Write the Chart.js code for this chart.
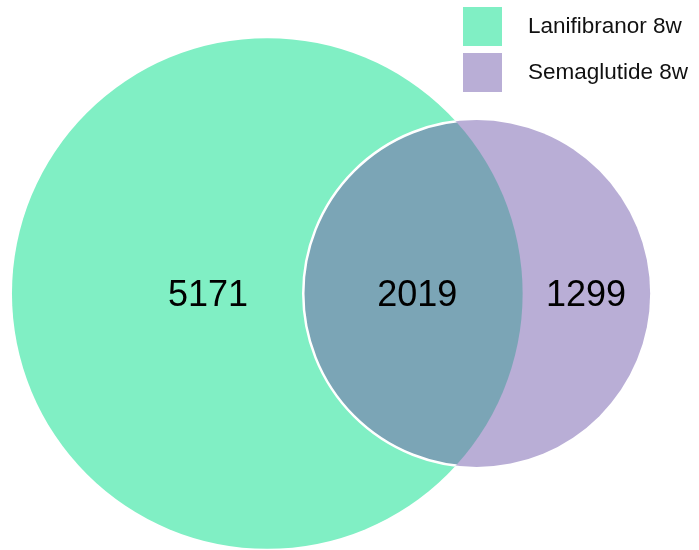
<!DOCTYPE html>
<html>
<head>
<meta charset="utf-8">
<script src="https://cdn.jsdelivr.net/npm/chart.js@4.4.1/dist/chart.umd.min.js"></script>
<style>
   html, body { margin: 0; padding: 0; background: #fff; }
   #wrap { width: 699px; height: 550px; }
</style>
</head>
<body>
<div id="wrap"><canvas id="venn"></canvas></div>
<script>
// sets and region counts
const setNames = ['Lanifibranor 8w', 'Semaglutide 8w']
const onlyCounts = [5171, 1299]
const sharedCount = 2019
const setColors = ['#80efc4', '#b9aed6']
const sharedColor = '#7ba5b6'

// layout (pixels per unit of sqrt(count / PI), big circle centre in px)
const ppu = 5.337
const centrePx = { x: 267.3, y: 293.5 }
const distanceStretch = 1.024
const labelOffsets = [-11.1, 28.1, 59.7]
const W = 699, H = 550

Chart.defaults.font.family = '"Liberation Sans", Arial, sans-serif'

// area proportional circles
const totals = onlyCounts.map(c => c + sharedCount)
const radii = totals.map(t => Math.sqrt(t / Math.PI))

function lensArea(d, r1, r2) {
   const a1 = r1 * r1 * Math.acos((d * d + r1 * r1 - r2 * r2) / (2 * d * r1))
   const a2 = r2 * r2 * Math.acos((d * d + r2 * r2 - r1 * r1) / (2 * d * r2))
   const k = Math.sqrt((-d + r1 + r2) * (d + r1 - r2) * (d - r1 + r2) * (d + r1 + r2))
   return a1 + a2 - 0.5 * k
}

function centreDistance(r1, r2, area) {
   let lo = Math.abs(r1 - r2) + 1e-6
   let hi = r1 + r2 - 1e-6
   for (let i = 0; i < 80; ++i) {
      const mid = (lo + hi) / 2
      if (lensArea(mid, r1, r2) > area) lo = mid
      else hi = mid
   }
   return (lo + hi) / 2
}

const dist = centreDistance(radii[0], radii[1], sharedCount) * distanceStretch
const centresX = [0, dist]

function pxRadius(chart, r) {
   const s = chart.scales.x
   return Math.abs(s.getPixelForValue(r) - s.getPixelForValue(0))
}

function circlePx(chart, i) {
   return {
      x: chart.scales.x.getPixelForValue(centresX[i]),
      y: chart.scales.y.getPixelForValue(0),
      r: pxRadius(chart, radii[i])
   }
}

const vennPlugin = {
   id: 'venn',
   afterDatasetsDraw(chart) {
      const ctx = chart.ctx
      const a = circlePx(chart, 0)
      const b = circlePx(chart, 1)

      // shared region
      ctx.save()
      ctx.beginPath()
      ctx.arc(a.x, a.y, a.r, 0, Math.PI * 2)
      ctx.clip()
      ctx.beginPath()
      ctx.arc(b.x, b.y, b.r, 0, Math.PI * 2)
      ctx.fillStyle = sharedColor
      ctx.fill()
      ctx.lineWidth = 2.5
      ctx.strokeStyle = '#ffffff'
      ctx.stroke()
      ctx.restore()

      // counts
      const counts = [onlyCounts[0], sharedCount, onlyCounts[1]]
      ctx.save()
      ctx.font = '36px "Liberation Sans", Arial, sans-serif'
      ctx.fillStyle = '#000000'
      ctx.textAlign = 'center'
      ctx.textBaseline = 'alphabetic'
      counts.forEach((c, i) => {
         const x = chart.scales.x.getPixelForValue(labelOffsets[i])
         const y = chart.scales.y.getPixelForValue(0) + 12
         ctx.fillText(String(c), x, y)
      })
      ctx.restore()
   },
   afterDraw(chart) {
      // legend
      const ctx = chart.ctx
      ctx.save()
      ctx.font = '22.5px "Liberation Sans", Arial, sans-serif'
      ctx.textBaseline = 'middle'
      ctx.textAlign = 'left'
      setNames.forEach((name, i) => {
         const top = 7 + i * 46
         ctx.fillStyle = setColors[i]
         ctx.fillRect(463, top, 39, 39)
         ctx.fillStyle = '#111111'
         ctx.fillText(name, 528, top + 20)
      })
      ctx.restore()
   }
}

new Chart(document.getElementById('venn'), {
   type: 'scatter',
   data: {
      datasets: setNames.map((name, i) => ({
         label: name,
         data: [{ x: centresX[i], y: 0 }],
         backgroundColor: setColors[i],
         borderColor: '#ffffff',
         borderWidth: 0,
         pointRadius: ctx => pxRadius(ctx.chart, radii[i]),
         order: 2 - i,
         clip: false
      }))
   },
   options: {
      responsive: true,
      maintainAspectRatio: false,
      animation: false,
      events: [],
      layout: { padding: 0 },
      scales: {
         x: { type: 'linear', display: false, min: -centrePx.x / ppu, max: (W - centrePx.x) / ppu },
         y: { type: 'linear', display: false, min: -(H - centrePx.y) / ppu, max: centrePx.y / ppu }
      },
      plugins: {
         legend: { display: false },
         tooltip: { enabled: false }
      }
   },
   plugins: [vennPlugin]
})
</script>
</body>
</html>
